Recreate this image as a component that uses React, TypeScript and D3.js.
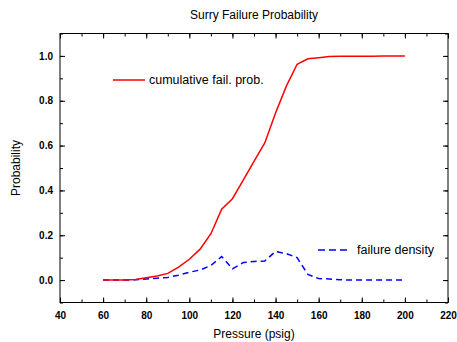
import * as d3 from "d3";
import { useRef, useEffect } from "react";

// pressure (psig) sample points
const pressure = [60, 65, 70, 75, 80, 85, 90, 95, 100, 105, 110, 115, 120, 125, 130, 135, 140, 145, 150, 155, 160, 165, 170, 175, 180, 185, 190, 195, 200];
const cumulative = [0, 0, 0, 0.003, 0.01, 0.018, 0.03, 0.058, 0.093, 0.138, 0.207, 0.316, 0.363, 0.446, 0.529, 0.612, 0.745, 0.865, 0.963, 0.987, 0.992, 0.997, 0.998, 0.998, 0.999, 0.999, 1.0, 1.0, 1.0];
const density = [0, 0, 0, 0.002, 0.005, 0.008, 0.012, 0.022, 0.035, 0.045, 0.065, 0.105, 0.05, 0.078, 0.083, 0.085, 0.128, 0.118, 0.1, 0.025, 0.007, 0.005, 0.002, 0, 0, 0, 0, 0, 0];

const xTicks = [40, 60, 80, 100, 120, 140, 160, 180, 200, 220];
const yTicks = [0.0, 0.2, 0.4, 0.6, 0.8, 1.0];

export default function App() {
    const ref = useRef<SVGSVGElement>(null);

    const width = 457;
    const height = 342;
    const marginLeft = 60;
    const marginRight = 9;
    const marginTop = 33.5;
    const marginBottom = 39.5;
    const font = "Arial, 'Liberation Sans', sans-serif";

    useEffect(() => {
        const svg = d3.select(ref.current);
        svg.selectAll("*").remove();

        const x = d3.scaleLinear().domain([40, 220]).range([marginLeft, width - marginRight]);
        const y = d3.scaleLinear().domain([-0.1, 1.1]).range([height - marginBottom, marginTop]);

        svg.append("rect")
            .attr("width", width)
            .attr("height", height)
            .attr("fill", "white");

        // title
        svg.append("text")
            .attr("x", (x(40) + x(220)) / 2)
            .attr("y", 19)
            .attr("text-anchor", "middle")
            .attr("font-family", font)
            .attr("font-size", 12)
            .text("Surry Failure Probability");

        // axes, ticks inward on all sides
        const xMinor = d3.range(40, 221, 10);
        const yMinor = d3.range(-0.1, 1.11, 0.1).map(v => +v.toFixed(2));

        svg.append("g")
            .attr("transform", `translate(0,${y(-0.1)})`)
            .call(d3.axisBottom(x).tickValues(xMinor).tickSize(-3).tickFormat(() => ""));
        svg.append("g")
            .attr("transform", `translate(0,${y(-0.1)})`)
            .call(d3.axisBottom(x).tickValues(xTicks).tickSize(-5).tickPadding(9).tickFormat(d3.format("d")))
            .attr("font-size", 10)
            .attr("font-family", font)
            .attr("font-weight", "bold");
        svg.append("g")
            .attr("transform", `translate(0,${y(1.1)})`)
            .call(d3.axisTop(x).tickValues(xMinor).tickSize(-3).tickFormat(() => ""));
        svg.append("g")
            .attr("transform", `translate(0,${y(1.1)})`)
            .call(d3.axisTop(x).tickValues(xTicks).tickSize(-5).tickFormat(() => ""));

        svg.append("g")
            .attr("transform", `translate(${x(40)},0)`)
            .call(d3.axisLeft(y).tickValues(yMinor).tickSize(-3).tickFormat(() => ""));
        svg.append("g")
            .attr("transform", `translate(${x(40)},0)`)
            .call(d3.axisLeft(y).tickValues(yTicks).tickSize(-5).tickPadding(7).tickFormat(d3.format(".1f")))
            .attr("font-size", 10)
            .attr("font-family", font)
            .attr("font-weight", "bold");
        svg.append("g")
            .attr("transform", `translate(${x(220)},0)`)
            .call(d3.axisRight(y).tickValues(yMinor).tickSize(-3).tickFormat(() => ""));
        svg.append("g")
            .attr("transform", `translate(${x(220)},0)`)
            .call(d3.axisRight(y).tickValues(yTicks).tickSize(-5).tickFormat(() => ""));

        svg.selectAll(".domain").remove();
        svg.selectAll(".tick text").attr("fill", "#000");

        // frame
        svg.append("rect")
            .attr("x", x(40))
            .attr("y", y(1.1))
            .attr("width", x(220) - x(40))
            .attr("height", y(-0.1) - y(1.1))
            .attr("fill", "none")
            .attr("stroke", "#000")
            .attr("stroke-width", 1);

        // axis titles
        svg.append("text")
            .attr("x", (x(40) + x(220)) / 2)
            .attr("y", 338)
            .attr("text-anchor", "middle")
            .attr("font-family", font)
            .attr("font-size", 12)
            .text("Pressure (psig)");
        svg.append("text")
            .attr("transform", `translate(20,${(y(-0.1) + y(1.1)) / 2}) rotate(-90)`)
            .attr("text-anchor", "middle")
            .attr("font-family", font)
            .attr("font-size", 12)
            .text("Probability");

        // lines
        const line = d3.line<number>()
            .x((d, i) => x(pressure[i]))
            .y(d => y(d));

        svg.append("path")
            .attr("d", line(density))
            .attr("fill", "none")
            .attr("stroke", "#0000ff")
            .attr("stroke-width", 1.5)
            .attr("stroke-dasharray", "6,4");

        svg.append("path")
            .attr("d", line(cumulative))
            .attr("fill", "none")
            .attr("stroke", "#ff0000")
            .attr("stroke-width", 1.5);

        // legends
        svg.append("line")
            .attr("x1", 113).attr("x2", 145)
            .attr("y1", 80).attr("y2", 80)
            .attr("stroke", "#ff0000")
            .attr("stroke-width", 1.5);
        svg.append("text")
            .attr("x", 149)
            .attr("y", 84)
            .attr("font-family", font)
            .attr("font-size", 12.5)
            .text("cumulative fail. prob.");

        svg.append("line")
            .attr("x1", 318).attr("x2", 348)
            .attr("y1", 250).attr("y2", 250)
            .attr("stroke", "#0000ff")
            .attr("stroke-width", 1.5)
            .attr("stroke-dasharray", "7,4");
        svg.append("text")
            .attr("x", 357)
            .attr("y", 254)
            .attr("font-family", font)
            .attr("font-size", 12.5)
            .text("failure density");
    }, []);

    return (
        <svg ref={ref} width={width} height={height}
            style={{ position: "absolute", left: 0, top: 0 }}></svg>
    );
}
